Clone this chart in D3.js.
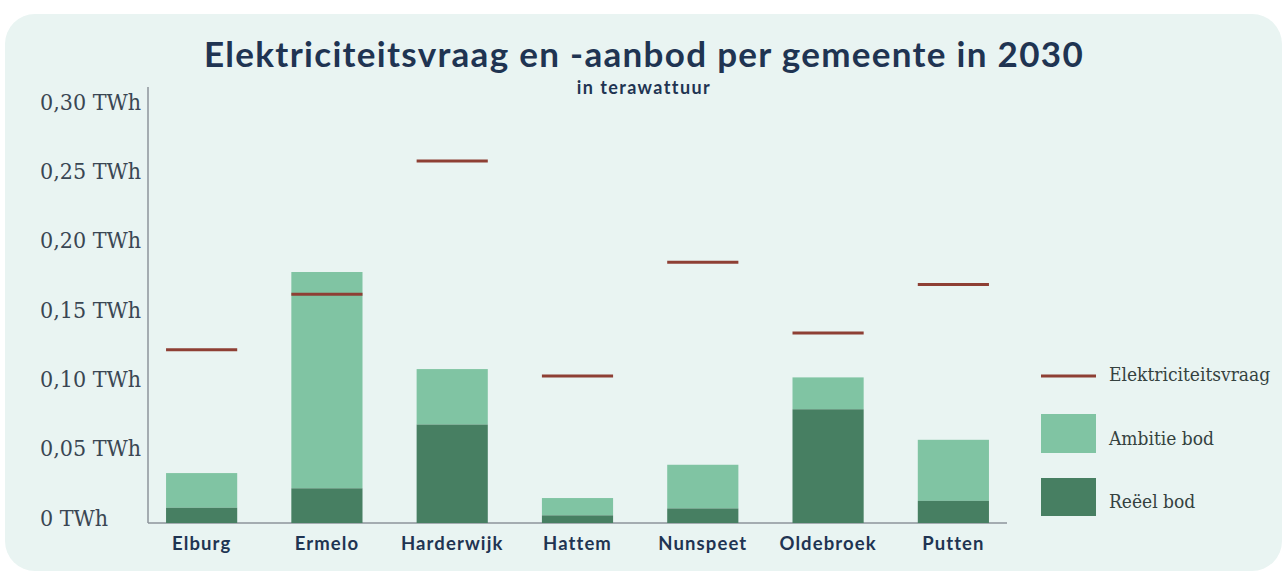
<!DOCTYPE html>
<html>
<head>
<meta charset="utf-8">
<script src="https://cdn.jsdelivr.net/npm/d3@7"></script>
<style>
  body { margin: 0; background: #fff; }
</style>
</head>
<body>
<div id="chart"></div>
<script>

var gemeenten = ["Elburg", "Ermelo", "Harderwijk", "Hattem", "Nunspeet", "Oldebroek", "Putten"]
var reeelBod = [0.011, 0.025, 0.071, 0.0055, 0.0105, 0.082, 0.016]
var ambitieBod = [0.036, 0.181, 0.111, 0.018, 0.042, 0.105, 0.060]   // top of the light bar
var vraag = [0.125, 0.165, 0.261, 0.106, 0.188, 0.137, 0.172]
var yTicks = [0, 0.05, 0.10, 0.15, 0.20, 0.25, 0.30]
var legendItems = ["Elektriciteitsvraag", "Ambitie bod", "Reëel bod"]

var width = 1285,
    height = 574

var navy = "#1f3452",
    light = "#80c4a3",
    dark = "#477f62",
    red = "#8e3f34"

var svg = d3.select("#chart")
  .append("svg")
    .attr("width", width)
    .attr("height", height)

// panel
svg.append("rect")
  .attr("x", 5).attr("y", 14)
  .attr("width", 1277).attr("height", 557)
  .attr("rx", 30)
  .attr("fill", "#e9f4f2")

svg.append("text")
  .attr("x", 644).attr("y", 67)
  .attr("text-anchor", "middle")
  .style("font-family", "Lato, sans-serif")
  .style("font-weight", 700)
  .style("font-size", "35px")
  .style("letter-spacing", "1.3px")
  .attr("fill", navy)
  .text("Elektriciteitsvraag en -aanbod per gemeente in 2030")

svg.append("text")
  .attr("x", 644).attr("y", 94)
  .attr("text-anchor", "middle")
  .style("font-family", "Lato, sans-serif")
  .style("font-weight", 700)
  .style("font-size", "18px")
  .style("letter-spacing", "1.4px")
  .attr("fill", navy)
  .text("in terawattuur")

var x = d3.scaleBand()
  .domain(gemeenten)
  .range([148, 1007])
  .paddingInner(0.432)
  .paddingOuter(0.144)

var y = d3.scaleLinear()
  .domain([0, 0.30])
  .range([523, 107])

var fmt = function(d) { return d === 0 ? "0 TWh" : d3.format(".2f")(d).replace(".", ",") + " TWh" }

var yAxis = svg.append("g")
  .attr("transform", "translate(148,0)")
  .call(d3.axisLeft(y).tickValues(yTicks).tickFormat(fmt).tickSize(0).tickPadding(10))
yAxis.select(".domain").remove()
yAxis.selectAll("text")
  .attr("x", -108)
  .attr("dy", "0.1em")
  .attr("text-anchor", "start")
  .style("font-family", "'DejaVu Serif Condensed', 'Liberation Serif', serif")
  .style("font-size", "23px")
  .attr("fill", "#3a4653")

// axis lines
svg.append("line")
  .attr("x1", 148).attr("x2", 148)
  .attr("y1", 87).attr("y2", y(0))
  .attr("stroke", "#8c949b").attr("stroke-width", 1.5)
svg.append("line")
  .attr("x1", 148).attr("x2", 1007)
  .attr("y1", y(0)).attr("y2", y(0))
  .attr("stroke", "#8c949b").attr("stroke-width", 1.5)

var rows = gemeenten.map(function(g, i) {
  return {naam: g, reeel: reeelBod[i], ambitie: ambitieBod[i], vraag: vraag[i]}
})

svg.selectAll(".amb")
  .data(rows)
  .enter()
  .append("rect")
    .attr("x", function(d) { return x(d.naam) })
    .attr("width", x.bandwidth())
    .attr("y", function(d) { return y(d.ambitie) })
    .attr("height", function(d) { return y(d.reeel) - y(d.ambitie) })
    .attr("fill", light)

svg.selectAll(".reeel")
  .data(rows)
  .enter()
  .append("rect")
    .attr("x", function(d) { return x(d.naam) })
    .attr("width", x.bandwidth())
    .attr("y", function(d) { return y(d.reeel) })
    .attr("height", function(d) { return y(0) - y(d.reeel) })
    .attr("fill", dark)

svg.selectAll(".vraag")
  .data(rows)
  .enter()
  .append("line")
    .attr("x1", function(d) { return x(d.naam) })
    .attr("x2", function(d) { return x(d.naam) + x.bandwidth() })
    .attr("y1", function(d) { return y(d.vraag) })
    .attr("y2", function(d) { return y(d.vraag) })
    .attr("stroke", red)
    .attr("stroke-width", 3)

var xAxis = svg.append("g")
  .attr("transform", "translate(0," + y(0) + ")")
  .call(d3.axisBottom(x).tickSize(0).tickPadding(14))
xAxis.select(".domain").remove()
xAxis.selectAll("text")
  .style("font-family", "Lato, sans-serif")
  .style("font-weight", 700)
  .style("font-size", "18.5px")
  .style("letter-spacing", "1.1px")
  .attr("fill", navy)

// legend
var leg = svg.append("g")
leg.append("line")
  .attr("x1", 1041).attr("x2", 1096)
  .attr("y1", 376).attr("y2", 376)
  .attr("stroke", red).attr("stroke-width", 3)
leg.append("rect")
  .attr("x", 1041).attr("y", 414)
  .attr("width", 55).attr("height", 39)
  .attr("fill", light)
leg.append("rect")
  .attr("x", 1041).attr("y", 478)
  .attr("width", 55).attr("height", 38)
  .attr("fill", dark)

leg.selectAll("text")
  .data(legendItems)
  .enter()
  .append("text")
    .attr("x", 1109)
    .attr("y", function(d, i) { return [374, 438, 501][i] })
    .attr("dy", "0.35em")
    .style("font-family", "'DejaVu Serif Condensed', 'Liberation Serif', serif")
    .style("font-size", "19px")
    .attr("fill", "#35423f")
    .text(function(d) { return d })

</script>
</body>
</html>
